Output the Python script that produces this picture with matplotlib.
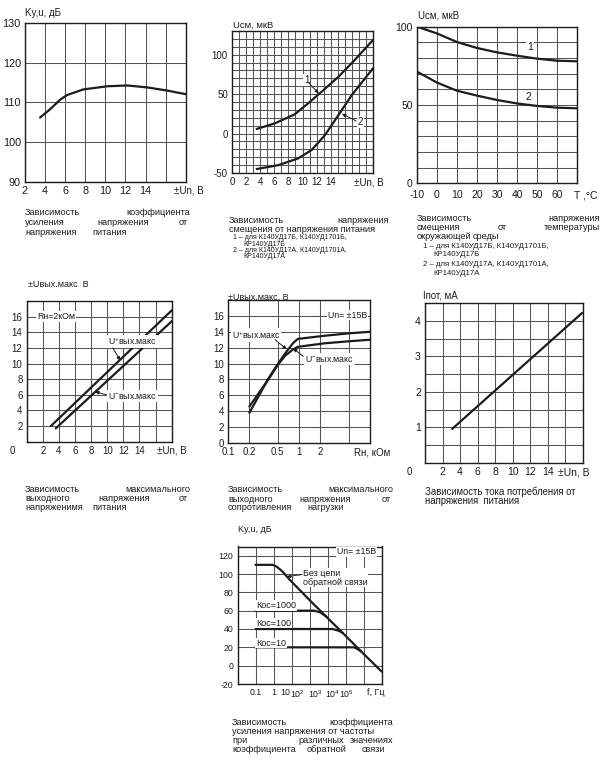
import matplotlib.pyplot as plt
from matplotlib.ticker import NullFormatter

plt.rcParams['font.family'] = ['Liberation Sans', 'DejaVu Sans']
plt.rcParams['mathtext.fontset'] = 'custom'
plt.rcParams['mathtext.rm'] = 'Liberation Sans'
plt.rcParams['mathtext.it'] = 'Liberation Sans'
plt.rcParams['axes.unicode_minus'] = False

W, H = 606, 770
INK = '#1c1c1c'
GRID = '#555555'

# --- 1: gain vs supply voltage ---
ku_un = [3.5, 4.5, 5.5, 6.2, 7.8, 10.2, 12.2, 14.2, 16.2, 18]
ku_db = [106.2, 108.3, 110.7, 111.9, 113.3, 114.1, 114.3, 113.8, 113.0, 112.1]

# --- 2: offset voltage vs supply voltage ---
ucm_un1 = [3.5, 6.1, 8.9, 10.8, 12.7, 15.1, 17.4, 20.0]
ucm_v1 = [5.8, 13, 24.4, 38.3, 53, 72, 93.2, 118.6]
ucm_un2 = [3.5, 6.6, 9.4, 11.3, 13.2, 15.1, 17.0, 20.0]
ucm_v2 = [-45, -40, -31.4, -20.8, -1.8, 23.5, 48.9, 82.7]

# --- 3: offset voltage vs temperature ---
temp = [-10, 0, 10, 20, 30, 40, 50, 60, 70]
ucm_t1 = [100, 95.7, 90.2, 86.4, 83.6, 81.5, 79.6, 78.3, 77.9]
ucm_t2 = [71.3, 64.3, 59.1, 56.0, 53.2, 51.0, 49.4, 48.3, 47.9]

# --- 4: max output voltage vs supply voltage ---
uout_un_p = [3.0, 18.0]
uout_p = [2.0, 16.8]
uout_un_m = [3.6, 18.0]
uout_m = [1.7, 15.4]

# --- 5: max output voltage vs load ---
rload = [0.2, 0.37, 0.5, 0.64, 0.83, 0.96, 2.3, 5, 10]
uload_p = [3.8, 8.1, 9.9, 11.3, 12.6, 13.1, 13.5, 13.8, 14.0]
uload_m = [4.6, 8.0, 9.8, 11.0, 11.8, 12.1, 12.55, 12.8, 13.0]

# --- 6: supply current vs supply voltage ---
ipot_un = [3.1, 17.9]
ipot_ma = [0.96, 4.22]

# --- 7: gain vs frequency ---
f_ol = [0.1, 0.9, 1.5, 3, 7.8, 100, 1e3, 1e4, 1e5, 1e6]
k_ol = [110, 110, 108, 103, 93.8, 71.5, 52, 32.5, 12.8, -6.5]
f_k1000 = [0.1, 180, 400, 850]
k_k1000 = [60, 60, 58, 53.5]
f_k100 = [0.1, 1900, 4200, 6800]
k_k100 = [40, 40, 38, 35.8]
f_k10 = [0.1, 30000, 45000, 74000]
k_k10 = [20, 20, 18.2, 15.4]
# the scanned sheet prints the decade labels crowded to the left of their lines
f_tick_pos = [0.1, 1, 4.2, 21, 200, 1950, 11000]
f_tick_lbl = ['0.1', '1', '10', r'10$^{2}$', r'10$^{3}$', r'10$^{4}$', r'10$^{5}$']

fig = plt.figure(figsize=(W / 100, H / 100), dpi=100)
fig.patch.set_facecolor('white')


def box(x0, y0, x1, y1):
    ax = fig.add_axes([x0 / W, 1 - y1 / H, (x1 - x0) / W, (y1 - y0) / H])
    for s in ax.spines.values():
        s.set_color(INK)
        s.set_linewidth(1.0)
    ax.tick_params(which='both', length=0, labelsize=7, colors=INK, pad=3)
    ax.xaxis.remove_overlapping_locs = False
    ax.yaxis.remove_overlapping_locs = False
    ax.set_axisbelow(True)
    return ax


def gridlines(ax, xs, ys):
    ax.set_xticks(xs, minor=True)
    ax.set_yticks(ys, minor=True)
    ax.xaxis.set_minor_formatter(NullFormatter())
    ax.yaxis.set_minor_formatter(NullFormatter())
    ax.grid(which='minor', color=GRID, lw=0.75)
    ax.grid(which='major', visible=False)


def xunit(ax, xv, s, ha='center', size=7, pad=3):
    ax.annotate(s, xy=(xv, 0), xycoords=('data', 'axes fraction'),
                xytext=(0, -pad), textcoords='offset points', ha=ha, va='top',
                fontsize=size, color=INK, annotation_clip=False)


def origin0(ax, dx):
    ax.annotate('0', xy=(0, 0), xycoords='axes fraction', xytext=(dx, -3),
                textcoords='offset points', ha='center', va='top',
                fontsize=7, color=INK, annotation_clip=False)


def ftext(x, y, s, ha='left', size=7.0):
    fig.text(x / W, 1 - y / H, s, ha=ha, va='center', fontsize=size, color=INK)


def note(ax, x, y, s, ha='left', size=6.5):
    ax.text(x, y, s, ha=ha, va='center', fontsize=size, color=INK,
            bbox=dict(facecolor='white', edgecolor='none', pad=0.6))


def arrow(ax, tail, tip):
    ax.annotate('', xy=tip, xytext=tail,
                arrowprops=dict(arrowstyle='-|>', color=INK, lw=0.7,
                                mutation_scale=5, shrinkA=0, shrinkB=0))


line_kw = dict(color=INK, lw=1.6, solid_capstyle='round')

# ---------------- 1 ----------------
ax1 = box(25, 23.3, 185.7, 181.7)
ax1.plot(ku_un, ku_db, **line_kw)
ax1.set_xlim(2, 18)
ax1.set_ylim(90, 130)
gridlines(ax1, range(2, 19, 2), range(90, 131, 10))
ax1.set_xticks(range(2, 15, 2))
ax1.set_yticks(range(90, 131, 10))
ax1.tick_params(labelsize=7.8)
xunit(ax1, 16.8, '±Un, В', ha='left')
ftext(25, 13, 'Ky,u, дБ')

# ---------------- 2 ----------------
ax2 = box(232, 31, 373, 173)
ax2.plot(ucm_un1, ucm_v1, **line_kw)
ax2.plot(ucm_un2, ucm_v2, **line_kw)
ax2.set_xlim(0, 20)
ax2.set_ylim(-50, 130)
gridlines(ax2, range(0, 21), range(-50, 131, 10))
ax2.set_xticks(range(0, 15, 2))
ax2.set_yticks([-50, 0, 50, 100])
xunit(ax2, 19.4, '±Un, В')
note(ax2, 10.6, 68, '1', ha='center', size=7)
arrow(ax2, (10.9, 64), (12.3, 51))
note(ax2, 18.2, 15, '2', ha='center', size=7)
arrow(ax2, (17.6, 16), (15.6, 25))
ftext(233, 25, 'Uсм, мкВ', size=6.8)

# ---------------- 3 ----------------
ax3 = box(417, 26.7, 577, 183.3)
ax3.plot(temp, ucm_t1, **line_kw)
ax3.plot(temp, ucm_t2, **line_kw)
ax3.set_xlim(-10, 70)
ax3.set_ylim(0, 100)
gridlines(ax3, range(-10, 71, 10), range(0, 101, 10))
ax3.set_xticks(range(-10, 61, 10))
ax3.set_yticks([0, 50, 100])
ax3.tick_params(labelsize=7.5)
ax3.tick_params(axis='x', pad=5)
xunit(ax3, 74.5, 'T ,°C', size=7.5, pad=5)
note(ax3, 46.5, 87.2, '1', ha='center', size=7.5)
note(ax3, 45.7, 55.3, '2', ha='center', size=7.5)
ftext(418, 15, 'Uсм, мкВ', size=7)

# ---------------- 4 ----------------
ax4 = box(26.7, 301, 171.7, 441.7)
ax4.plot(uout_un_p, uout_p, **line_kw)
ax4.plot(uout_un_m, uout_m, **line_kw)
ax4.set_xlim(0, 18)
ax4.set_ylim(0, 18)
gridlines(ax4, range(0, 19, 2), range(0, 19, 2))
ax4.set_xticks(range(2, 15, 2))
ax4.set_yticks(range(2, 17, 2))
xunit(ax4, 18, '±Un, В')
origin0(ax4, -10)
note(ax4, 1.3, 16, 'Rн=2кОм', size=6.3)
note(ax4, 10.1, 12.8, r'U$^{+}$вых.макс', size=6.3)
arrow(ax4, (10.7, 12.0), (11.6, 10.4))
note(ax4, 10.1, 5.8, r'U$^{-}$вых.макс', size=6.3)
arrow(ax4, (9.9, 6.0), (8.5, 6.4))
ftext(28, 285, '±Uвых.макс  В', size=6.5)

# ---------------- 5 ----------------
ax5 = box(228, 300, 370, 443)
ax5.plot(rload, uload_p, **line_kw)
ax5.plot(rload, uload_m, **line_kw)
ax5.set_xscale('log')
ax5.set_xlim(0.1, 10)
ax5.set_ylim(0, 18)
gridlines(ax5, [0.2, 0.5, 1, 2, 5], range(0, 19, 2))
ax5.set_xticks([0.1, 0.2, 0.5, 1, 2], ['0.1', '0.2', '0.5', '1', '2'])
ax5.set_yticks(range(0, 17, 2))
xunit(ax5, 10.7, 'Rн, кОм')
note(ax5, 0.113, 13.6, r'U$^{+}$вых.макс', size=6.3)
arrow(ax5, (0.46, 13.0), (0.67, 11.8))
note(ax5, 1.21, 10.6, r'U$^{-}$вых.макс', size=6.3)
arrow(ax5, (1.15, 10.9), (0.83, 11.9))
note(ax5, 9.0, 16.1, 'Un= ±15B', ha='right', size=6.3)
ftext(228, 297, '±Uвых.макс, В', size=6.5)

# ---------------- 6 ----------------
ax6 = box(425, 303, 583, 463)
ax6.plot(ipot_un, ipot_ma, **line_kw)
ax6.set_xlim(0, 18)
ax6.set_ylim(0, 4.5)
gridlines(ax6, range(0, 19, 2), [i * 0.5 for i in range(10)])
ax6.set_xticks(range(2, 15, 2))
ax6.set_yticks([1, 2, 3, 4])
ax6.tick_params(labelsize=7.5)
xunit(ax6, 17.0, '±Un, В', size=7.5)
origin0(ax6, -11)
ftext(423, 295, 'Iпот, мА', size=7)

# ---------------- 7 ----------------
ax7 = box(237.5, 546.5, 381.7, 684)
ax7.plot(f_ol, k_ol, **line_kw)
ax7.plot(f_k1000, k_k1000, **line_kw)
ax7.plot(f_k100, k_k100, **line_kw)
ax7.plot(f_k10, k_k10, **line_kw)
ax7.set_xscale('log')
ax7.set_xlim(1e-2, 1e6)
ax7.set_ylim(-20, 130)
gridlines(ax7, [10.0 ** k for k in range(-2, 7)], range(-20, 121, 20))
ax7.set_xticks(f_tick_pos, f_tick_lbl)
ax7.set_yticks(range(-20, 121, 20))
ax7.tick_params(labelsize=6.3)
xunit(ax7, 10 ** 5.67, 'f, Гц', size=6.5)
note(ax7, 0.11, 65.4, 'Кос=1000', size=6.5)
note(ax7, 0.11, 46.5, 'Кос=100', size=6.5)
note(ax7, 0.11, 24.7, 'Кос=10', size=6.5)
ax7.text(41, 96, 'Без цепи\nобратной связи', ha='left', va='center',
         fontsize=6.5, color=INK, linespacing=1.0,
         bbox=dict(facecolor='white', edgecolor='none', pad=0.6))
arrow(ax7, (38, 99.5), (5.5, 97))
note(ax7, 10 ** 5.7, 124, 'Un= ±15B', ha='right', size=6.3)
ftext(238, 530, 'Ky,u, дБ', size=6.5)

# ---------------- captions ----------------
CAP = 6.6
FN = 5.0
FN3 = 5.6
captions = [
    ('Зависимость', 25, 212.7, 'left', CAP), ('коэффициента', 190, 212.7, 'right', CAP),
    ('усиления', 25, 222.8, 'left', CAP), ('напряжения', 123, 222.8, 'center', CAP),
    ('от', 188, 222.8, 'right', CAP),
    ('напряжения', 25, 232.7, 'left', CAP), ('питания', 92, 232.7, 'left', CAP),

    ('Зависимость', 229, 220.5, 'left', CAP), ('напряжения', 389, 220.5, 'right', CAP),
    ('смещения от напряжения питания', 229, 229.5, 'left', CAP),
    ('1 – для К140УД17Б, К140УД1701Б,', 233, 237.5, 'left', FN),
    ('КР140УД17Б', 243, 244, 'left', FN),
    ('2 – для К140УД17А, К140УД1701А,', 233, 250.5, 'left', FN),
    ('КР140УД17А', 243, 257, 'left', FN),

    ('Зависимость', 417, 218.3, 'left', CAP), ('напряжения', 600, 218.3, 'right', CAP),
    ('смещения', 417, 227.3, 'left', CAP), ('от', 502, 227.3, 'center', CAP),
    ('температуры', 600, 227.3, 'right', CAP),
    ('окружающей', 417, 236.7, 'left', CAP), ('среды', 473, 236.7, 'left', CAP),
    ('1 – для К140УД17Б, К140УД1701Б,', 423, 246.7, 'left', FN3),
    ('КР140УД17Б', 433, 255, 'left', FN3),
    ('2 – для К140УД17А, К140УД1701А,', 423, 264.3, 'left', FN3),
    ('КР140УД17А', 433, 273.3, 'left', FN3),

    ('Зависимость', 25, 489.3, 'left', CAP), ('максимального', 190, 489.3, 'right', CAP),
    ('выходного', 25, 498.3, 'left', CAP), ('напряжения', 124, 498.3, 'center', CAP),
    ('от', 188, 498.3, 'right', CAP),
    ('напряженимя', 25, 507.3, 'left', CAP), ('питания', 92, 507.3, 'left', CAP),

    ('Зависимость', 228, 490, 'left', CAP), ('максимального', 393, 490, 'right', CAP),
    ('выходного', 228, 499, 'left', CAP), ('напряжения', 325, 499, 'center', CAP),
    ('от', 391, 499, 'right', CAP),
    ('сопротивления', 228, 508, 'left', CAP), ('нагрузки', 307, 508, 'left', CAP),

    ('Зависимость тока потребления от', 425, 491.7, 'left', CAP + 0.3),
    ('напряжения  питания', 425, 500.7, 'left', CAP + 0.3),

    ('Зависимость', 232, 722.5, 'left', CAP), ('коэффициента', 393, 722.5, 'right', CAP),
    ('усиления напряжения от частоты', 232, 731.5, 'left', CAP),
    ('при', 232, 740.5, 'left', CAP), ('различных', 321, 740.5, 'center', CAP),
    ('значениях', 393, 740.5, 'right', CAP),
    ('коэффициента', 232, 749.5, 'left', CAP), ('обратной', 327, 749.5, 'center', CAP),
    ('связи', 385, 749.5, 'right', CAP),
]
for s, x, y, ha, size in captions:
    ftext(x, y, s, ha=ha, size=size)

fig.savefig('out.png', dpi=100, facecolor='white')
plt.close(fig)
